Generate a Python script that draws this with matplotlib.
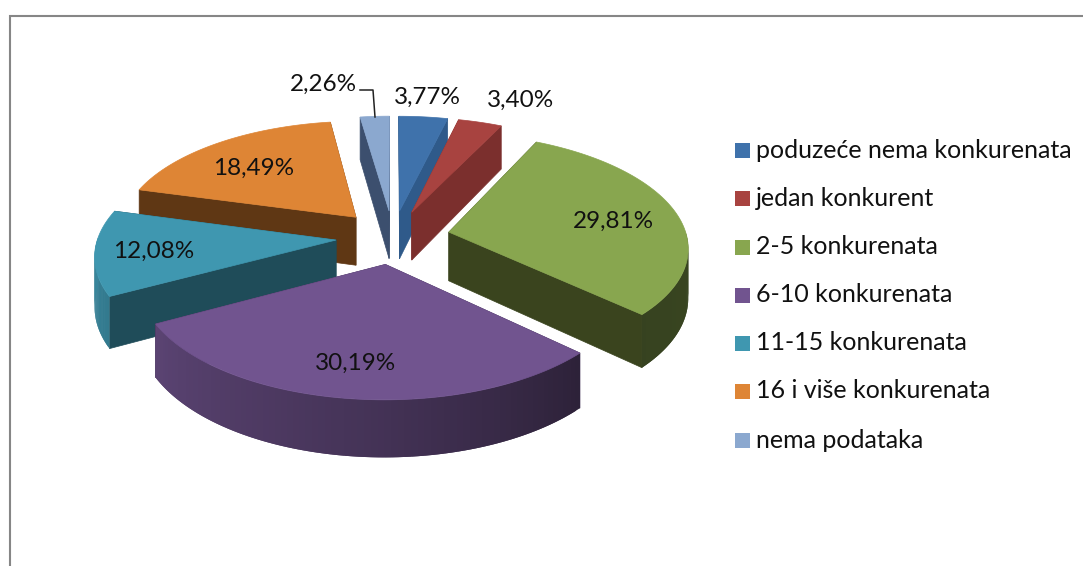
import numpy as np
import matplotlib
matplotlib.use("Agg")
import matplotlib.pyplot as plt
from matplotlib.patches import Polygon, Rectangle
from matplotlib.colors import to_rgb

categories = ["poduzeće nema konkurenata", "jedan konkurent", "2-5 konkurenata",
              "6-10 konkurenata", "11-15 konkurenata", "16 i više konkurenata", "nema podataka"]
values = [3.77, 3.40, 29.81, 30.19, 12.08, 18.49, 2.26]
top_colors = ["#3F72AB", "#A84340", "#88A64F", "#71548F", "#3F97B0", "#DE8535", "#8BA8CF"]
wall_colors = ["#2F5A8A", "#7B2F2D", "#3A441E", "#3A2A4E", "#1F4C59", "#5F3714", "#3C4F6E"]
label_pos = [(427, 97), (521, 100), (613, 221), (356, 363), (154, 251), (254, 168), (323, 84)]
legend_y = [150.5, 198.5, 247, 295, 343, 391, 440]

plt.rcParams['font.family'] = ['Lato', 'DejaVu Sans']
W, H = 1083, 566
fig = plt.figure(figsize=(W / 100, H / 100), dpi=100)
ax = fig.add_axes([0, 0, 1, 1])
ax.set_xlim(0, W)
ax.set_ylim(H, 0)
ax.axis("off")

CX, CY, A, B, K, DEPTH, EXPL = 393, 237, 238, 112, 0.12, 49, 0.24


def project(X, Y, z=0.0):
    # X to the right, Y towards the viewer, z = drop of the bottom face
    p = 1 / (1 - K * Y)
    return CX + A * X * p, CY + B * Y * p + z * p


def shade(col, f):
    return tuple(c * f for c in to_rgb(col))


total = sum(values)
fr = np.array(values) / total * 360
starts = np.concatenate([[0], np.cumsum(fr)[:-1]])
slices = []
for i in range(len(values)):
    a0, a1 = starts[i], starts[i] + fr[i]
    mid = np.radians((a0 + a1) / 2)
    ox, oy = EXPL * np.sin(mid), -EXPL * np.cos(mid)
    slices.append((oy, i, a0, a1, ox))

for oy, i, a0, a1, ox in sorted(slices):
    ang = np.radians(np.linspace(a0, a1, 80))
    ax_x = ox + np.sin(ang)
    ax_y = oy - np.cos(ang)
    tx, ty = project(ox, oy)
    bx, by = project(ox, oy, DEPTH)
    ex, ey = project(ax_x, ax_y)
    fx, fy = project(ax_x, ax_y, DEPTH)
    # radial walls
    for k in (0, -1):
        ax.add_patch(Polygon([(tx, ty), (ex[k], ey[k]), (fx[k], fy[k]), (bx, by)],
                             closed=True, fc=wall_colors[i], ec=wall_colors[i], lw=0.5, zorder=2))
    # front-facing outer wall, shaded by direction; each strip overlaps the next
    deg = np.degrees(ang)
    fac = np.interp(deg, [90, 133, 180, 240, 280], [.42, .40, .60, .80, .92])
    front = np.where(np.cos(ang) < 0.02)[0]
    for k in front[:-1]:
        c = shade(top_colors[i], fac[k])
        m = min(k + 3, front[-1] + 1)
        ax.add_patch(Polygon(list(zip(ex[k:m], ey[k:m])) + list(zip(fx[k:m], fy[k:m]))[::-1],
                             closed=True, fc=c, ec="none", zorder=2))
    # top face
    pts = [(tx, ty)] + list(zip(ex, ey))
    ax.add_patch(Polygon(pts, closed=True, fc=top_colors[i], ec=top_colors[i], lw=0.5, zorder=2))

for v, (x, y) in zip(values, label_pos):
    ax.text(x, y, f"{v:.2f}%".replace(".", ","), ha="center", va="center",
            fontsize=17.5, color="#111111", zorder=5)

for c, t, y in zip(top_colors, categories, legend_y):
    ax.add_patch(Rectangle((735, y - 7.5), 15, 15, fc=c, ec="none", zorder=5))
    ax.text(756, y, t, ha="left", va="center", fontsize=18, color="#111111", zorder=5)

# leader line of the smallest slice
ax.plot([360, 373, 375], [90, 90, 117], color="#222222", lw=1.1, zorder=5)

# chart frame
ax.plot([10, 10, W], [H, 15.5, 15.5], color="#868686", lw=1.5, zorder=6, solid_joinstyle="miter")

fig.savefig("out.png", dpi=100, facecolor="white")
